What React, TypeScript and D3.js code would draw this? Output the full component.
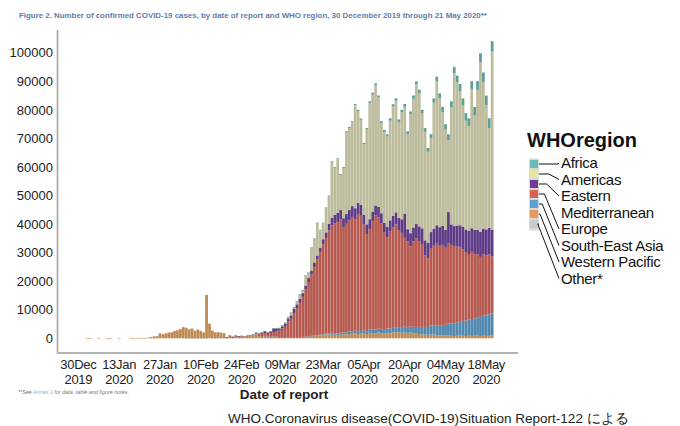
import * as d3 from "d3";

// day offsets from 30 Dec 2019 (one bar per report day)
const days = d3.range(143);

// x-axis tick labels sit on every 14th report day
const tickDays = [0, 14, 28, 42, 56, 70, 84, 98, 112, 126, 140];
const tickMonths = ["30Dec", "13Jan", "27Jan", "10Feb", "24Feb", "09Mar", "23Mar", "05Apr", "20Apr", "04May", "18May"];
const tickYears = ["2019", "2020", "2020", "2020", "2020", "2020", "2020", "2020", "2020", "2020", "2020"];

// daily confirmed cases by WHO region
const westernPacific = [
  0, 0, 0, 27, 17, 0, 0, 15, 0, 0,
  8, 41, 0, 0, 7, 0, 0, 0, 4, 17,
  136, 77, 149, 131, 259, 444, 688, 769, 1771, 1459,
  1737, 1982, 2102, 2590, 2829, 3235, 3887, 3694, 3143, 3399,
  2656, 3062, 2478, 2015, 15152, 5090, 2641, 2009, 2048, 1886,
  1749, 414, 942, 497, 877, 578, 739, 550, 717, 832,
  998, 1386, 808, 754, 1000, 614, 660, 664, 562, 372,
  347, 255, 377, 300, 330, 350, 380, 450, 520, 600,
  700, 800, 900, 1000, 1100, 1300, 1400, 1200, 1300, 1200,
  1500, 1300, 1400, 1500, 1600, 1700, 1500, 1800, 1600, 1500,
  1900, 1800, 1700, 2000, 1800, 1600, 1900, 1700, 2100, 2200,
  2000, 1900, 2100, 1900, 2000, 1700, 1600, 1500, 1400, 1300,
  1200, 1400, 1300, 1100, 1000, 1100, 900, 1000, 900, 800,
  900, 1000, 900, 800, 900, 850, 900, 1000, 800, 900,
  850, 900, 950,
];
const other = [
  0, 0, 0, 0, 0, 0, 0, 0, 0, 0,
  0, 0, 0, 0, 0, 0, 0, 0, 0, 0,
  0, 0, 0, 0, 0, 0, 0, 0, 0, 0,
  0, 0, 0, 0, 0, 0, 0, 10, 10, 41,
  3, 6, 65, 39, 44, 0, 67, 70, 99, 88,
  79, 13, 0, 0, 0, 0, 0, 0, 0, 0,
  0, 0, 0, 0, 0, 0, 0, 0, 0, 0,
  0, 0, 0, 0, 0, 0, 0, 0, 0, 0,
  0, 0, 0, 0, 0, 0, 0, 0, 0, 0,
  0, 0, 0, 0, 0, 0, 0, 0, 0, 0,
  0, 0, 0, 0, 0, 0, 0, 0, 0, 0,
  0, 0, 0, 0, 0, 0, 0, 0, 0, 0,
  0, 0, 0, 0, 0, 0, 0, 0, 0, 0,
  0, 0, 0, 0, 0, 0, 0, 0, 0, 0,
  0, 0, 0,
];
const southEastAsia = [
  0, 0, 0, 0, 0, 0, 0, 0, 0, 0,
  0, 0, 0, 0, 0, 0, 0, 0, 0, 0,
  0, 0, 0, 0, 0, 0, 0, 0, 0, 0,
  0, 0, 0, 0, 0, 0, 0, 0, 0, 0,
  0, 0, 0, 0, 0, 0, 0, 0, 0, 0,
  0, 0, 0, 0, 0, 0, 0, 0, 0, 0,
  0, 0, 0, 2, 5, 5, 10, 20, 10, 10,
  20, 15, 25, 30, 40, 30, 50, 60, 80, 90,
  150, 180, 200, 250, 280, 300, 350, 400, 500, 550,
  600, 650, 700, 800, 900, 950, 1000, 1100, 1200, 1000,
  1200, 1300, 1400, 1350, 1500, 1600, 1500, 1700, 1800, 1700,
  1900, 2000, 2100, 2000, 2200, 2300, 2400, 2500, 2600, 2700,
  2800, 3000, 3100, 3300, 3400, 3600, 3800, 4200, 4300, 4500,
  4700, 5000, 5200, 5400, 5600, 5900, 6100, 6400, 6700, 7000,
  7200, 7500, 7700,
];
const europe = [
  0, 0, 0, 0, 0, 0, 0, 0, 0, 0,
  0, 0, 0, 0, 0, 0, 0, 0, 0, 0,
  0, 0, 0, 0, 0, 0, 0, 0, 0, 0,
  0, 0, 0, 0, 0, 0, 0, 0, 0, 0,
  0, 0, 0, 0, 0, 0, 0, 0, 0, 0,
  0, 0, 0, 15, 60, 80, 100, 120, 180, 240,
  320, 420, 600, 800, 700, 900, 1200, 1500, 1800, 2300,
  3200, 4000, 5500, 6500, 8500, 10000, 12000, 14000, 16500, 19000,
  21500, 24000, 26500, 29000, 31500, 33500, 36000, 38000, 38500, 39000,
  39500, 37000, 38000, 39000, 40000, 39000, 41000, 40000, 37000, 34000,
  35000, 38000, 40000, 39000, 37000, 34000, 32000, 34000, 35000, 36000,
  34000, 33000, 31000, 30000, 28000, 30000, 31000, 30000, 29000, 25000,
  24000, 27000, 28000, 29000, 28000, 28000, 27000, 28000, 27500, 27000,
  26500, 26000, 25000, 24000, 23000, 23500, 22500, 22000, 21000, 21500,
  21000, 21000, 20000,
];
const easternMediterranean = [
  0, 0, 0, 0, 0, 0, 0, 0, 0, 0,
  0, 0, 0, 0, 0, 0, 0, 0, 0, 0,
  0, 0, 0, 0, 0, 0, 0, 0, 0, 0,
  0, 0, 0, 0, 0, 0, 0, 0, 0, 0,
  0, 0, 0, 0, 0, 0, 0, 0, 0, 0,
  0, 2, 3, 13, 10, 15, 40, 45, 60, 110,
  150, 210, 390, 530, 850, 600, 620, 1250, 1100, 780,
  650, 930, 1050, 1200, 1400, 1500, 1400, 1300, 1400, 1500,
  1400, 1600, 1400, 1500, 1800, 2000, 2300, 2600, 2900, 3200,
  3300, 3100, 3400, 3700, 3800, 3900, 4000, 3800, 3500, 3400,
  3600, 3300, 3400, 3700, 3500, 3300, 3600, 3900, 4000, 4200,
  4300, 4800, 8500, 4300, 4600, 4800, 5000, 5200, 5500, 5300,
  5400, 5800, 6000, 6200, 6500, 6700, 6300, 11000, 7200, 7000,
  7400, 7600, 8000, 7900, 8200, 8300, 8500, 8600, 8800, 9000,
  9100, 9300, 9400,
];
const americas = [
  0, 0, 0, 0, 0, 0, 0, 0, 0, 0,
  0, 0, 0, 0, 0, 0, 0, 0, 0, 0,
  0, 0, 0, 0, 0, 0, 0, 0, 0, 0,
  0, 0, 0, 0, 0, 0, 0, 0, 0, 0,
  0, 0, 0, 0, 0, 0, 0, 0, 0, 0,
  0, 0, 0, 0, 1, 0, 5, 2, 3, 5,
  4, 10, 20, 30, 50, 60, 80, 120, 150, 200,
  280, 300, 530, 950, 700, 1080, 1620, 1130, 3420, 1720,
  7950, 8290, 11350, 6070, 5620, 8480, 9700, 19520, 16500, 18730,
  12270, 17610, 28640, 28620, 29300, 36030, 32050, 29820, 24600, 33180,
  40750, 41000, 42180, 38300, 31500, 31780, 31650, 34920, 38300, 39080,
  33550, 37400, 37350, 33300, 41550, 45100, 48900, 46600, 40250, 38000,
  31950, 32800, 44100, 50400, 45200, 39800, 35100, 25200, 41000, 53500,
  50200, 47000, 42400, 38100, 36600, 48650, 40100, 49000, 59400, 51400,
  43550, 34900, 62450,
];
const africa = [
  0, 0, 0, 0, 0, 0, 0, 0, 0, 0,
  0, 0, 0, 0, 0, 0, 0, 0, 0, 0,
  0, 0, 0, 0, 0, 0, 0, 0, 0, 0,
  0, 0, 0, 0, 0, 0, 0, 0, 0, 0,
  0, 0, 0, 0, 0, 0, 0, 0, 0, 0,
  0, 0, 0, 0, 0, 0, 0, 0, 0, 0,
  0, 0, 0, 0, 0, 0, 2, 2, 3, 5,
  5, 10, 15, 20, 30, 40, 50, 60, 80, 90,
  100, 130, 150, 180, 200, 220, 250, 280, 300, 320,
  330, 340, 360, 380, 400, 420, 450, 480, 500, 520,
  560, 610, 590, 660, 720, 690, 760, 800, 770, 840,
  880, 900, 980, 960, 1080, 1120, 1050, 1230, 1260, 1300,
  1320, 1450, 1480, 1640, 1690, 1830, 1870, 2050, 2080, 2260,
  2280, 2450, 2480, 2650, 2690, 2840, 2880, 3050, 3080, 3260,
  3280, 3450, 3520,
];

// stack order, bottom to top
const keys = ["other", "westernPacific", "southEastAsia", "europe", "easternMediterranean", "americas", "africa"];
const barColor: Record<string, string> = {
  africa: "#5c9f99",
  americas: "#bcbb9b",
  easternMediterranean: "#5e3b86",
  europe: "#b65a4f",
  southEastAsia: "#5088b0",
  westernPacific: "#c08a55",
  other: "#b9b9b9",
};

// legend, top to bottom
const legendKeys = ["africa", "americas", "easternMediterranean", "europe", "southEastAsia", "westernPacific", "other"];
const legendSwatch = ["#68bcb3", "#e6e79e", "#6b3e93", "#d8624f", "#5da0d2", "#e89a56", "#c8cacb"];
const legendLines = ["Africa", "Americas", "Eastern", "Mediterranean", "Europe", "South-East Asia", "Western Pacific", "Other*"];
const legendLineOf = [0, 1, 2, 4, 5, 6, 7];

const font = "'Liberation Sans', Arial, Helvetica, sans-serif";

export default function App() {
  const rows = days.map((d) => ({
    day: d,
    africa: africa[d],
    americas: americas[d],
    easternMediterranean: easternMediterranean[d],
    europe: europe[d],
    southEastAsia: southEastAsia[d],
    westernPacific: westernPacific[d],
    other: other[d],
  }));
  const series = d3.stack<any>().keys(keys)(rows);

  const x = d3.scaleBand<number>().domain(days).range([77, 493.5]).paddingInner(0.06);
  const y = d3.scaleLinear().domain([0, 100000]).range([338.3, 52.7]);
  const yTicks = y.ticks(10);
  const cx = (d: number) => (x(d) ?? 0) + x.bandwidth() / 2;

  return (
    <svg width={680} height={426} style={{ position: "absolute", left: 0, top: 0, background: "#fff" }} fontFamily={font}>
      <text x={19} y={18} fontSize={7.9} fontWeight="bold" fill="#45679a" opacity={0.85}>
        Figure 2. Number of confirmed COVID-19 cases, by date of report and WHO region, 30 December 2019 through 21 May 2020**
      </text>

      {series.map((s) => (
        <g key={s.key} fill={barColor[s.key]}>
          {s.map((p, i) =>
            p[1] > p[0] ? (
              <rect key={i} x={x(days[i])} y={y(p[1])} width={x.bandwidth()} height={Math.max(0.6, y(p[0]) - y(p[1]))} />
            ) : null
          )}
        </g>
      ))}

      {/* axes */}
      <line x1={57.5} x2={57.5} y1={30} y2={354} stroke="#a99c9a" strokeWidth={1.5} />
      <line x1={57} x2={518} y1={353} y2={353} stroke="#b4b4b4" strokeWidth={2} />
      {yTicks.map((t) => (
        <text key={t} x={53} y={y(t)} dy="0.36em" textAnchor="end" fontSize={13} fill="#222">
          {d3.format("d")(t)}
        </text>
      ))}
      {tickDays.map((d, i) => (
        <g key={d} textAnchor="middle" fontSize={13} fill="#222" letterSpacing={-0.3}>
          <text x={cx(d)} y={369}>{tickMonths[i]}</text>
          <text x={cx(d)} y={384}>{tickYears[i]}</text>
        </g>
      ))}
      <text x={284} y={399} textAnchor="middle" fontSize={13.5} fontWeight="bold" fill="#222">
        Date of report
      </text>

      <text x={18} y={394} fontSize={5.4} fontStyle="italic" fill="#777">
        **See <tspan fill="#7fb0dc">Annex 1</tspan> for data, table and figure notes.
      </text>

      {/* legend */}
      <text x={527} y={147} fontSize={20} fontWeight="bold" fill="#111">
        WHOregion
      </text>
      <rect x={529} y={158.5} width={10} height={72} fill="#d9d9d9" />
      {legendKeys.map((k, i) => {
        const sy = 164 + i * 10;
        const ty = 168 + legendLineOf[i] * 16.5 - 5;
        const knee = i === 0 ? 558 : 551 - i * 2.2;
        return (
          <g key={k}>
            <rect x={530} y={sy - 4} width={8} height={8} fill={legendSwatch[i]} />
            <polyline
              points={`539,${sy} ${knee},${sy} 559,${ty}`}
              fill="none"
              stroke="#111"
              strokeWidth={1}
            />
          </g>
        );
      })}
      {legendLines.map((t, i) => (
        <text key={t} x={561} y={168 + i * 16.5} fontSize={15} fill="#111" letterSpacing={-0.3}>
          {t}
        </text>
      ))}

      <text x={228} y={423} fontSize={13.5} fill="#222">
        WHO.Coronavirus disease(COVID-19)Situation Report-122 による
      </text>
    </svg>
  );
}
